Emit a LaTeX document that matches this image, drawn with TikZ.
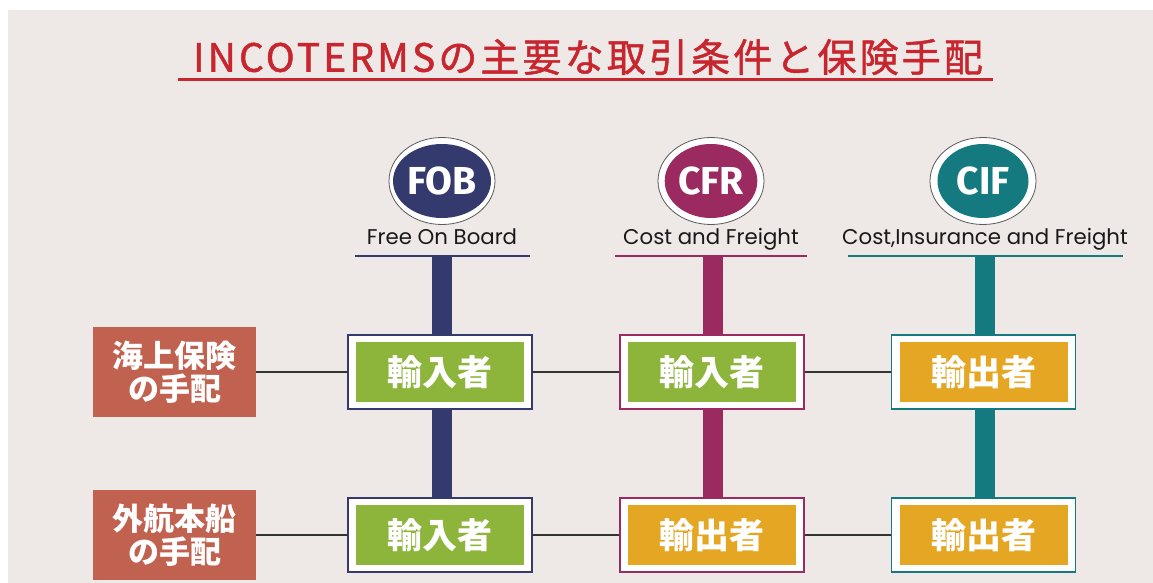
\documentclass[tikz,border=0pt]{standalone}
\usepackage{fontspec}
\usetikzlibrary{shapes.geometric}
\newfontfamily\jp{Noto Sans CJK JP}
\newfontfamily\jptitle[LetterSpace=8,FakeBold=1.2]{Noto Sans CJK JP}
\newfontfamily\pop{Poppins}
\newfontfamily\fira{Fira Sans}
\definecolor{bgc}{HTML}{EEE8E7}
\definecolor{titlered}{HTML}{C8262E}
\definecolor{fobc}{HTML}{353A6E}
\definecolor{cfrc}{HTML}{9A2A5F}
\definecolor{cifc}{HTML}{157A80}
\definecolor{greenc}{HTML}{8DB53C}
\definecolor{goldc}{HTML}{E5A624}
\definecolor{brickc}{HTML}{C0624F}
\definecolor{linec}{HTML}{333333}
\pgfdeclarelayer{back}
\pgfdeclarelayer{mid}
\pgfsetlayers{back,mid,main}
\tikzset{
  ring/.style={ellipse, draw=gray!70!black, line width=0.8pt, fill=white, minimum width=106pt, minimum height=87pt, inner sep=0pt},
  disc/.style={ellipse, fill=#1, minimum width=91pt, minimum height=74pt, inner sep=0pt, text=white, font=\fira\bfseries\fontsize{39}{39}\selectfont},
  sub/.style={anchor=base, text=black!90, inner sep=0pt, font=\pop\fontsize{21.3}{21.3}\selectfont},
  subline/.style={draw=#1, line width=2pt},
  bar/.style={draw=#1, line width=20pt},
  outerbox/.style={draw=#1, line width=1.5pt, fill=white, minimum width=184pt, minimum height=74pt, inner sep=0pt},
  innerbox/.style={fill=#1, minimum width=168pt, minimum height=60pt, inner sep=0pt, text=white, font=\jp\bfseries\fontsize{35}{35}\selectfont},
  leftbox/.style={fill=brickc, minimum width=163pt, minimum height=90pt, inner sep=0pt, text=white, align=center, font=\jp\bfseries\fontsize{31}{33}\selectfont},
  conn/.style={draw=linec, line width=1.5pt},
}
\begin{document}
\begin{tikzpicture}[x=1pt,y=-1pt]
\useasboundingbox (0,0) rectangle (1153,583);
\begin{pgfonlayer}{back}
\fill[white] (0,0) rectangle (1153,583);
\fill[bgc] (8,10) rectangle (1153,583);
\end{pgfonlayer}
% title
\node[text=titlered, inner sep=0pt, font=\jptitle\fontsize{39}{39}\selectfont] (title) at (588,57) {INCOTERMSの主要な取引条件と保険手配};
\coordinate (tl) at (178,80);
\coordinate (tr) at (993,80);
\draw[titlered, line width=3pt] (tl) -- (tr);
% circles
\node[ring] (fobring) at (442,181) {};
\node[disc=fobc] (fob) at (fobring) {FOB};
\node[ring] (cfrring) at (711,181) {};
\node[disc=cfrc] (cfr) at (cfrring) {CFR};
\node[ring] (cifring) at (983,181) {};
\node[disc=cifc] (cif) at (cifring) {CIF};
% sublabels
\node[sub] (fobl) at (442,244) {Free On Board};
\node[sub] (cfrl) at (711,244) {Cost and Freight};
\node[sub] (cifl) at (985,244) {Cost,Insurance and Freight};
\coordinate (fobu1) at (355,256); \coordinate (fobu2) at (530,256);
\coordinate (cfru1) at (615,256); \coordinate (cfru2) at (807,256);
\coordinate (cifu1) at (848,256); \coordinate (cifu2) at (1123,256);
\draw[subline=fobc] (fobu1) -- (fobu2);
\draw[subline=cfrc] (cfru1) -- (cfru2);
\draw[subline=cifc] (cifu1) -- (cifu2);
% left boxes
\node[leftbox] (ins) at (174.5,372) {海上保険\\の手配};
\node[leftbox] (ship) at (174.5,535) {外航本船\\の手配};
% boxes row 1
\node[outerbox=fobc] (fob1) at (440,372) {};
\node[innerbox=greenc] (fob1t) at (fob1) {輸入者};
\node[outerbox=cfrc] (cfr1) at (712,372) {};
\node[innerbox=greenc] (cfr1t) at (cfr1) {輸入者};
\node[outerbox=cifc] (cif1) at (983.5,372) {};
\node[innerbox=goldc] (cif1t) at (cif1) {輸出者};
% boxes row 2
\node[outerbox=fobc] (fob2) at (440,535) {};
\node[innerbox=greenc] (fob2t) at (fob2) {輸入者};
\node[outerbox=cfrc] (cfr2) at (712,535) {};
\node[innerbox=goldc] (cfr2t) at (cfr2) {輸出者};
\node[outerbox=cifc] (cif2) at (983.5,535) {};
\node[innerbox=goldc] (cif2t) at (cif2) {輸出者};
% bars
\coordinate (fobtop) at (442,257);
\coordinate (cfrtop) at (713,257);
\coordinate (ciftop) at (985,257);
\begin{pgfonlayer}{mid}
\draw[bar=fobc] (fobtop) -- (fobtop |- fob2.north);
\draw[bar=cfrc] (cfrtop) -- (cfrtop |- cfr2.north);
\draw[bar=cifc] (ciftop) -- (ciftop |- cif2.north);
\end{pgfonlayer}
% connectors
\draw[conn] (ins) -- (fob1);
\draw[conn] (fob1) -- (cfr1);
\draw[conn] (cfr1) -- (cif1);
\draw[conn] (ship) -- (fob2);
\draw[conn] (fob2) -- (cfr2);
\draw[conn] (cfr2) -- (cif2);
\end{tikzpicture}
\end{document}
